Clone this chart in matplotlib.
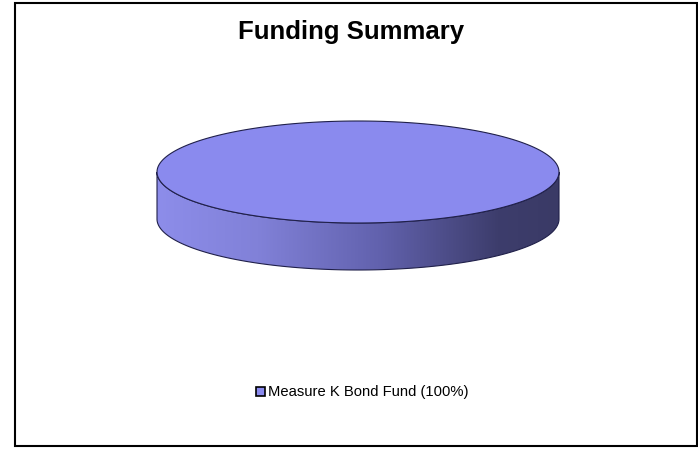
import numpy as np
import matplotlib.pyplot as plt
from matplotlib.patches import Rectangle, Polygon, Patch
from matplotlib.colors import LinearSegmentedColormap

plt.rcParams['font.family'] = ['Liberation Sans', 'DejaVu Sans']

title = "Funding Summary"
labels = ["Measure K Bond Fund"]
values = [100]
top_colors = ["#8a8aee"]

fig = plt.figure(figsize=(6.98, 4.5), dpi=100)
ax = fig.add_axes([0, 0, 1, 1])
ax.set_xlim(0, 698)
ax.set_ylim(450, 0)
ax.axis('off')

# chart area border
ax.add_patch(Rectangle((14.5, 2.5), 682, 443.5, fill=False, edgecolor='black', lw=1.5))

ax.text(351.5, 38.5, title, ha='center', va='baseline', fontsize=18.5, fontweight='bold')

# 3d pie geometry
cx, cy = 358, 172
rx, ry = 201, 51
depth = 47


def ellipse_pts(t0, t1, yoff=0.0, n=200):
    t = np.linspace(t0, t1, n)
    return np.column_stack([cx + rx * np.cos(t), cy + yoff + ry * np.sin(t)])


fracs = np.array(values, dtype=float) / sum(values)
starts = np.concatenate([[0], np.cumsum(fracs)[:-1]]) * 2 * np.pi
ends = np.cumsum(fracs) * 2 * np.pi

side_cmap = LinearSegmentedColormap.from_list(
    'side', [(0, '#8d8dea'), (0.25, '#8181d8'), (0.55, '#6262ae'),
             (0.85, '#3d3d6c'), (1, '#3a3a66')])

for s, e, col in zip(starts, ends, top_colors):
    # front side wall: only the part facing the viewer (0..pi in screen coords)
    a0, a1 = max(s, 0), min(e, np.pi)
    if a1 > a0:
        upper = ellipse_pts(a0, a1)
        lower = ellipse_pts(a1, a0, depth)
        wall = np.vstack([upper, lower])
        grad = np.linspace(0, 1, 512).reshape(1, -1)
        im = ax.imshow(grad, cmap=side_cmap, aspect='auto',
                       extent=(cx - rx, cx + rx, cy + ry + depth, cy - ry),
                       zorder=2, interpolation='bilinear')
        clip = Polygon(wall, closed=True, transform=ax.transData, fill=False)
        im.set_clip_path(clip)
        ax.add_patch(Polygon(wall, closed=True, fill=False, edgecolor='#20204a', lw=0.8, zorder=3))
    # top face
    if e - s >= 2 * np.pi - 1e-9:
        top = ellipse_pts(0, 2 * np.pi)
    else:
        top = np.vstack([[cx, cy], ellipse_pts(s, e)])
    ax.add_patch(Polygon(top, closed=True, facecolor=col, edgecolor='#20204a', lw=0.8, zorder=4))

handles = [Patch(facecolor=c, edgecolor='black', lw=1.2,
                 label=f"{l} ({v / sum(values) * 100:.0f}%)")
           for l, v, c in zip(labels, values, top_colors)]
fig.legend(handles=handles, loc='center', bbox_to_anchor=(0.519, 0.128),
           frameon=False, fontsize=10.6, handlelength=0.55, handleheight=0.55,
           handletextpad=0.2)

fig.savefig('out.png', dpi=100)
